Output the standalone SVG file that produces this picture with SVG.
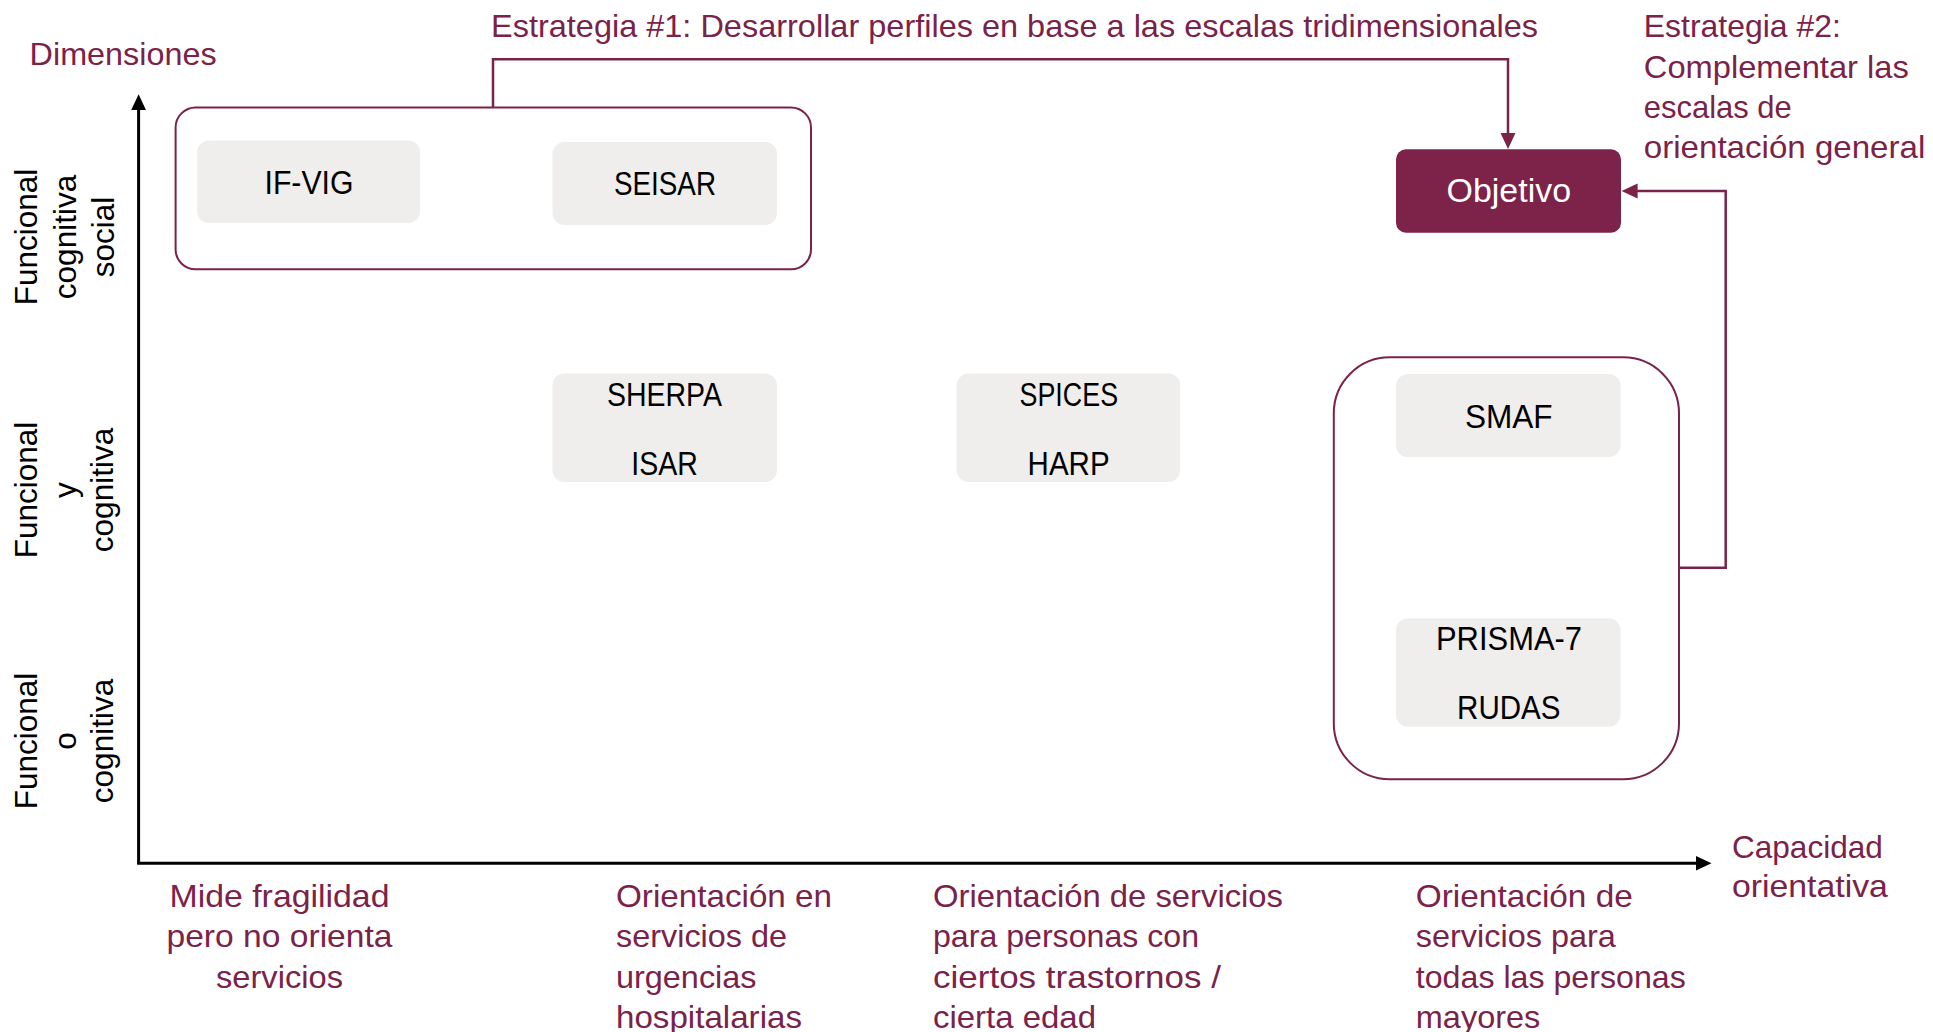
<svg xmlns="http://www.w3.org/2000/svg" width="1933" height="1032" viewBox="0 0 1933 1032">
<style>
.lbl{font-family:"Liberation Sans",Arial,sans-serif;font-size:32px;fill:#7B2249}
.node{font-family:"Liberation Sans",Arial,sans-serif;font-size:33px;fill:#000;text-anchor:middle}
.dim{font-family:"Liberation Sans",Arial,sans-serif;font-size:31.5px;fill:#000;text-anchor:middle}
.box{fill:#EFEEEC}
.grp{fill:none;stroke:#7B2249;stroke-width:2}
.conn{fill:none;stroke:#7B2249;stroke-width:2.5}
.axis{fill:none;stroke:#000;stroke-width:3}
</style>
<defs>
<marker id="am" markerUnits="userSpaceOnUse" markerWidth="17" markerHeight="16" refX="6" refY="8" orient="auto">
<path d="M0,0.5 L16,8 L0,15.5 z" fill="#7B2249"/>
</marker>
<marker id="ax" markerUnits="userSpaceOnUse" markerWidth="17" markerHeight="16" refX="6" refY="8" orient="auto">
<path d="M0,0.5 L16,8 L0,15.5 z" fill="#000"/>
</marker>
</defs>
<rect width="1933" height="1032" fill="#fff"/>

<g id="axes">
<path class="axis" d="M138.6,863.3 V104.3" marker-end="url(#ax)"/>
<path class="axis" d="M137.1,863.3 H1701.5" marker-end="url(#ax)"/>
</g>

<g id="connectors">
<path class="conn" d="M493,107.5 V59.3 H1508 V139" marker-end="url(#am)"/>
<path class="conn" d="M1679,567.7 H1725.7 V191 H1631.6" marker-end="url(#am)"/>
</g>

<g id="group-tridimensional">
<rect class="grp" x="175.6" y="107.5" width="635.4" height="161.8" rx="20"/>
</g>
<g id="group-general">
<rect class="grp" x="1333.8" y="357.3" width="345.2" height="422" rx="56"/>
</g>

<g id="node-ifvig">
<rect class="box" x="197" y="140.5" width="223" height="82.5" rx="12"/>
<text class="node" x="309" y="194" textLength="89" lengthAdjust="spacingAndGlyphs">IF-VIG</text>
</g>
<g id="node-seisar">
<rect class="box" x="552.5" y="142" width="224.5" height="83" rx="12"/>
<text class="node" x="665" y="195.3" textLength="102" lengthAdjust="spacingAndGlyphs">SEISAR</text>
</g>
<g id="node-sherpa-isar">
<rect class="box" x="552.5" y="373.5" width="224.5" height="108.5" rx="12"/>
<text class="node" x="664.5" y="406" textLength="115" lengthAdjust="spacingAndGlyphs">SHERPA</text>
<text class="node" x="664.5" y="475" textLength="66.5" lengthAdjust="spacingAndGlyphs">ISAR</text>
</g>
<g id="node-spices-harp">
<rect class="box" x="956.7" y="373.5" width="223.5" height="108.5" rx="12"/>
<text class="node" x="1068.8" y="406" textLength="98.5" lengthAdjust="spacingAndGlyphs">SPICES</text>
<text class="node" x="1068.6" y="474.5" textLength="82" lengthAdjust="spacingAndGlyphs">HARP</text>
</g>
<g id="node-objetivo">
<rect x="1396" y="149.3" width="225" height="83.4" rx="10" fill="#7D2249"/>
<text class="node" x="1508.8" y="201.7" style="fill:#fff" textLength="124.5" lengthAdjust="spacingAndGlyphs">Objetivo</text>
</g>
<g id="node-smaf">
<rect class="box" x="1396" y="374" width="224.5" height="83.3" rx="12"/>
<text class="node" x="1508.8" y="427.7" textLength="87.6" lengthAdjust="spacingAndGlyphs">SMAF</text>
</g>
<g id="node-prisma-rudas">
<rect class="box" x="1396" y="618.3" width="224.5" height="108.4" rx="12"/>
<text class="node" x="1509" y="650" textLength="146" lengthAdjust="spacingAndGlyphs">PRISMA-7</text>
<text class="node" x="1508.8" y="718.7" textLength="103.5" lengthAdjust="spacingAndGlyphs">RUDAS</text>
</g>

<g id="labels-top">
<text class="lbl" x="29.6" y="65" textLength="187" lengthAdjust="spacingAndGlyphs">Dimensiones</text>
<text class="lbl" x="491" y="36.7" textLength="1047" lengthAdjust="spacingAndGlyphs">Estrategia #1: Desarrollar perfiles en base a las escalas tridimensionales</text>
<text class="lbl" x="1643.8" y="36.7" textLength="197" lengthAdjust="spacingAndGlyphs">Estrategia #2:</text>
<text class="lbl" x="1643.8" y="77.5" textLength="265" lengthAdjust="spacingAndGlyphs">Complementar las</text>
<text class="lbl" x="1643.8" y="118" textLength="148" lengthAdjust="spacingAndGlyphs">escalas de</text>
<text class="lbl" x="1643.8" y="158" textLength="281.5" lengthAdjust="spacingAndGlyphs">orientación general</text>
<text class="lbl" x="1731.9" y="857.7" textLength="151" lengthAdjust="spacingAndGlyphs">Capacidad</text>
<text class="lbl" x="1731.9" y="897" textLength="156" lengthAdjust="spacingAndGlyphs">orientativa</text>
</g>

<g id="labels-dimensions">
<text class="dim" transform="translate(37.3,237) rotate(-90)">Funcional</text>
<text class="dim" transform="translate(76,237) rotate(-90)">cognitiva</text>
<text class="dim" transform="translate(113.5,237) rotate(-90)">social</text>
<text class="dim" transform="translate(37.3,490) rotate(-90)">Funcional</text>
<text class="dim" transform="translate(75.5,490) rotate(-90)">y</text>
<text class="dim" transform="translate(113,490) rotate(-90)">cognitiva</text>
<text class="dim" transform="translate(37.3,741) rotate(-90)">Funcional</text>
<text class="dim" transform="translate(75.5,741) rotate(-90)">o</text>
<text class="dim" transform="translate(113,741) rotate(-90)">cognitiva</text>
</g>

<g id="labels-capacity">
<text class="lbl" x="279.5" y="906.5" text-anchor="middle" textLength="220" lengthAdjust="spacingAndGlyphs">Mide fragilidad</text>
<text class="lbl" x="279.5" y="947" text-anchor="middle" textLength="226" lengthAdjust="spacingAndGlyphs">pero no orienta</text>
<text class="lbl" x="279.5" y="987.5" text-anchor="middle" textLength="127" lengthAdjust="spacingAndGlyphs">servicios</text>

<text class="lbl" x="616" y="906.5" textLength="216" lengthAdjust="spacingAndGlyphs">Orientación en</text>
<text class="lbl" x="616" y="947" textLength="171" lengthAdjust="spacingAndGlyphs">servicios de</text>
<text class="lbl" x="616" y="987.5" textLength="140.5" lengthAdjust="spacingAndGlyphs">urgencias</text>
<text class="lbl" x="616" y="1028" textLength="186" lengthAdjust="spacingAndGlyphs">hospitalarias</text>

<text class="lbl" x="933" y="906.5" textLength="350" lengthAdjust="spacingAndGlyphs">Orientación de servicios</text>
<text class="lbl" x="933" y="947" textLength="266" lengthAdjust="spacingAndGlyphs">para personas con</text>
<text class="lbl" x="933" y="987.5" textLength="288" lengthAdjust="spacingAndGlyphs">ciertos trastornos /</text>
<text class="lbl" x="933" y="1028" textLength="163" lengthAdjust="spacingAndGlyphs">cierta edad</text>

<text class="lbl" x="1415.8" y="906.5" textLength="217" lengthAdjust="spacingAndGlyphs">Orientación de</text>
<text class="lbl" x="1415.8" y="947" textLength="200" lengthAdjust="spacingAndGlyphs">servicios para</text>
<text class="lbl" x="1415.8" y="987.5" textLength="270" lengthAdjust="spacingAndGlyphs">todas las personas</text>
<text class="lbl" x="1415.8" y="1028" textLength="124.5" lengthAdjust="spacingAndGlyphs">mayores</text>
</g>
</svg>
